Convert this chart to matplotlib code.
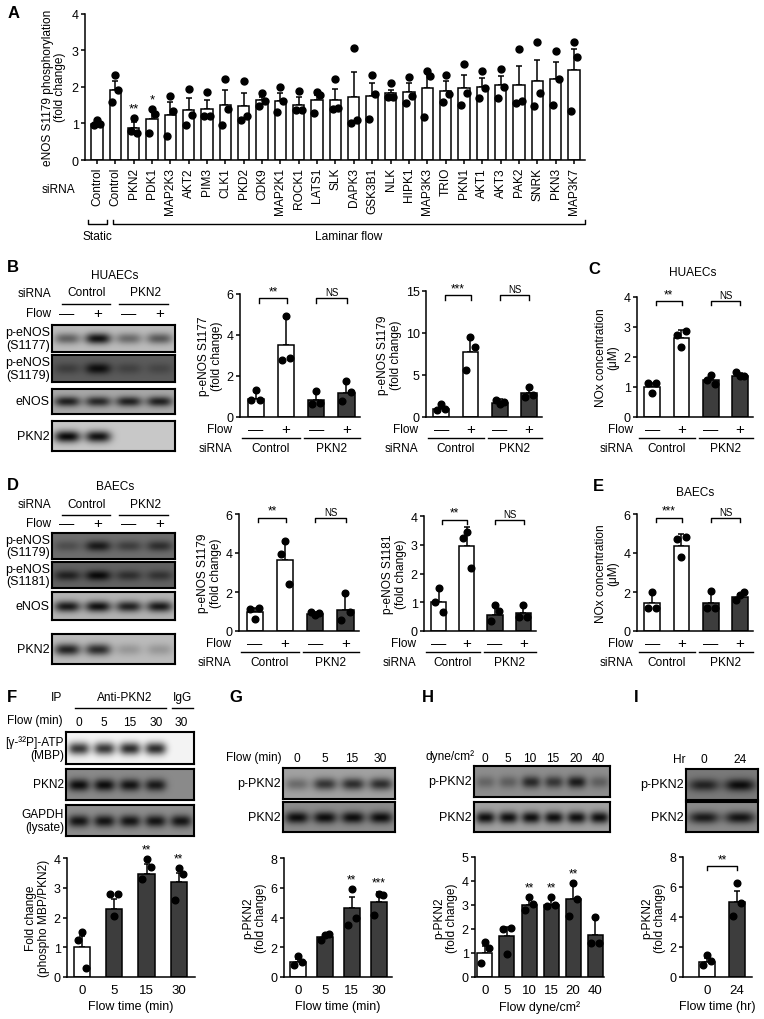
import numpy as np
import matplotlib
matplotlib.use("Agg")
import matplotlib.pyplot as plt
from matplotlib.lines import Line2D
from matplotlib.transforms import Affine2D, blended_transform_factory

# ---------------- data ----------------
# A: siRNA screen, eNOS S1179 phosphorylation (fold change)
a_names = ["Control", "Control", "PKN2", "PDK1", "MAP2K3", "AKT2", "PIM3", "CLK1",
           "PKD2", "CDK9", "MAP2K1", "ROCK1", "LATS1", "SLK", "DAPK3", "GSK3B1",
           "NLK", "HIPK1", "MAP3K3", "TRIO", "PKN1", "AKT1", "AKT3", "PAK2",
           "SNRK", "PKN3", "MAP3K7"]
a_mean = [0.97, 1.92, 0.88, 1.12, 1.23, 1.37, 1.40, 1.51, 1.47, 1.63, 1.62, 1.51,
          1.63, 1.64, 1.71, 1.74, 1.82, 1.86, 1.96, 1.89, 1.97, 2.00, 2.04, 2.05,
          2.17, 2.22, 2.46]
a_top = [1.03, 2.17, 1.03, 1.37, 1.58, 1.68, 1.65, 1.92, 1.82, 1.73, 1.83, 1.72,
         1.78, 1.95, 2.41, 2.10, 1.91, 2.09, 2.38, 2.15, 2.33, 2.23, 2.30, 2.57,
         2.73, 2.67, 3.04]
a_pts = [[0.95, 1.08, 0.98], [1.57, 2.33, 1.92], [0.78, 1.14, 0.74], [0.73, 1.38, 1.26],
         [0.65, 1.75, 1.34], [0.95, 1.95, 1.23], [1.20, 1.87, 1.20], [0.96, 2.22, 1.38],
         [1.09, 2.15, 1.19], [1.47, 1.83, 1.61], [1.30, 1.98, 1.61], [1.37, 1.88, 1.37],
         [1.29, 1.87, 1.77], [1.38, 2.20, 1.41], [1.02, 3.05, 1.09], [1.13, 2.31, 1.79],
         [1.72, 2.10, 1.72], [1.56, 2.27, 1.76], [1.18, 2.42, 2.29], [1.57, 2.33, 1.79],
         [1.49, 2.61, 1.82], [1.68, 2.42, 1.97], [1.69, 2.48, 2.00], [1.55, 3.04, 1.61],
         [1.47, 3.22, 1.82], [1.49, 2.97, 2.20], [1.35, 3.22, 2.82]]
a_stars = {"PKN2": "**", "PDK1": "*"}

# B: HUAEC p-eNOS
b1_mean = [0.87, 3.50, 0.82, 1.18]
b1_top = [1.20, 4.85, 1.20, 1.75]
b1_pts = [[0.85, 1.30, 0.85], [2.80, 4.95, 2.90], [0.65, 1.25, 0.70], [0.80, 1.75, 1.20]]
b2_mean = [1.0, 7.7, 1.7, 2.8]
b2_top = [1.5, 9.3, 2.1, 3.5]
b2_pts = [[0.8, 1.5, 0.9], [5.6, 9.5, 8.3], [2.0, 1.5, 1.8], [2.4, 3.6, 2.6]]
# C: HUAEC NOx
c_mean = [1.0, 2.63, 1.22, 1.38]
c_top = [1.15, 2.90, 1.40, 1.48]
c_pts = [[1.13, 0.80, 1.13], [2.75, 2.34, 2.87], [1.22, 1.40, 1.10], [1.50, 1.38, 1.38]]
# D: BAEC p-eNOS
d1_mean = [1.0, 3.65, 0.85, 1.10]
d1_top = [1.20, 4.50, 0.97, 1.90]
d1_pts = [[1.15, 0.60, 1.20], [3.95, 4.60, 2.40], [0.95, 0.80, 0.90], [0.55, 1.95, 0.95]]
d2_mean = [1.0, 2.95, 0.56, 0.62]
d2_top = [1.48, 3.62, 0.85, 0.90]
d2_pts = [[1.00, 1.48, 0.65], [3.25, 3.45, 2.18], [0.36, 0.91, 0.70], [0.50, 0.91, 0.47]]
# E: BAEC NOx
e_mean = [1.45, 4.37, 1.45, 1.74]
e_top = [2.00, 5.00, 2.05, 1.90]
e_pts = [[1.20, 2.00, 1.20], [4.70, 3.78, 4.80], [1.20, 2.05, 1.20], [1.57, 1.87, 2.00]]
# F-I: PKN2 activity / phosphorylation
f_x = ["0", "5", "15", "30"]
f_mean = [1.0, 2.3, 3.45, 3.2]
f_top = [1.37, 2.62, 3.80, 3.50]
f_pts = [[1.25, 1.50, 0.30], [2.80, 2.05, 2.80], [3.30, 3.95, 3.70], [2.60, 3.65, 3.45]]
f_stars = ["", "", "**", "**"]
g_x = ["0", "5", "15", "30"]
g_mean = [1.0, 2.7, 4.65, 5.05]
g_top = [1.2, 2.85, 5.35, 5.70]
g_pts = [[0.8, 1.4, 1.0], [2.5, 2.8, 2.9], [3.5, 5.9, 4.0], [4.2, 5.6, 5.5]]
g_stars = ["", "", "**", "***"]
h_x = ["0", "5", "10", "15", "20", "40"]
h_mean = [1.0, 1.7, 3.0, 3.0, 3.25, 1.75]
h_top = [1.3, 2.1, 3.25, 3.3, 3.9, 2.45]
h_pts = [[0.6, 1.45, 1.2], [2.0, 0.95, 2.05], [2.8, 3.35, 3.05], [2.95, 3.35, 3.0],
         [2.55, 3.9, 3.25], [1.4, 2.5, 1.4]]
h_stars = ["", "", "**", "**", "**", ""]
i_x = ["0", "24"]
i_mean = [1.0, 5.0]
i_top = [1.3, 5.75]
i_pts = [[0.8, 1.5, 1.05], [4.1, 6.3, 4.95]]

# western blot band strengths (0 = no band, 1 = black)
blot_b = {"p-eNOS\n(S1177)": [0.50, 0.95, 0.45, 0.55],
          "p-eNOS\n(S1179)": [0.35, 0.90, 0.30, 0.25],
          "eNOS": [0.85, 0.80, 0.85, 0.85],
          "PKN2": [1.0, 0.95, 0.0, 0.0]}
blot_d = {"p-eNOS\n(S1179)": [0.30, 0.80, 0.45, 0.60],
          "p-eNOS\n(S1181)": [0.70, 0.95, 0.55, 0.50],
          "eNOS": [0.90, 0.95, 0.85, 0.90],
          "PKN2": [0.85, 0.80, 0.20, 0.20]}
blot_f = {"[\u03b3-\u00b3\u00b2P]-ATP\n(MBP)": [0.80, 0.80, 0.85, 0.85, 0.0],
          "PKN2": [0.95, 0.95, 0.90, 0.85, 0.0],
          "GAPDH\n(lysate)": [0.90, 0.90, 0.90, 0.90, 0.90]}
blot_g = {"p-PKN2": [0.35, 0.70, 0.75, 0.75], "PKN2": [0.95, 0.95, 0.95, 0.95]}
blot_h = {"p-PKN2": [0.30, 0.35, 0.75, 0.65, 0.85, 0.35], "PKN2": [0.95] * 6}
blot_i = {"p-PKN2": [0.75, 0.95], "PKN2": [0.85, 0.90]}

# ---------------- figure setup ----------------
W, H = 764, 1020
plt.rcParams['font.family'] = ['Liberation Sans', 'DejaVu Sans']
plt.rcParams['font.size'] = 8.6
fig = plt.figure(figsize=(W / 100, H / 100), dpi=100)
PX = Affine2D().scale(1 / W, -1 / H).translate(0, 1) + fig.transFigure
DARK = "#3d3d3d"
LW = 1.1


def add_ax(x0, y0, x1, y1):
    return fig.add_axes([x0 / W, 1 - y1 / H, (x1 - x0) / W, (y1 - y0) / H])


def txt(x, y, s, **kw):
    kw.setdefault("ha", "center")
    kw.setdefault("va", "center")
    fig.text(x, y, s, transform=PX, **kw)


def pline(xs, ys, tr=PX, lw=1.0):
    fig.add_artist(Line2D(xs, ys, transform=tr, color="black", lw=lw))


def letter(x, y, s):
    txt(x, y, s, fontsize=12, fontweight="bold")


def style(ax):
    for s in ["top", "right"]:
        ax.spines[s].set_visible(False)
    for s in ["left", "bottom"]:
        ax.spines[s].set_linewidth(LW)
    ax.tick_params(width=LW, length=3, pad=1.5, labelsize=9)


def bars(ax, mean, top, pts, colors, width, ms=4.8):
    x = np.arange(len(mean))
    mean = np.array(mean)
    up = np.array(top) - mean
    ax.errorbar(x, mean, yerr=[np.zeros_like(up), up], fmt="none", ecolor="black",
                elinewidth=LW, capsize=2.5, capthick=LW, zorder=1)
    ax.bar(x, mean, width, color=colors, edgecolor="black", linewidth=LW, zorder=2)
    dx = np.array([-0.26, 0.0, 0.26]) * width
    for i, p in enumerate(pts):
        ax.plot(i + dx, p, "o", color="black", ms=ms, zorder=3, clip_on=False)


def blot(x0, y0, x1, y1, label, bands, bg, lab_x=None, fs=9):
    ax = add_ax(x0, y0, x1, y1)
    n = len(bands)
    w, h = int(x1 - x0) * 3, int(y1 - y0) * 3
    X, Y = np.meshgrid(np.linspace(0, n, w), np.linspace(0, 1, h))
    img = np.full((h, w), bg)
    for i, b in enumerate(bands):
        prof = np.exp(-(np.abs(X - (i + 0.5)) / 0.42) ** 3 - ((Y - 0.52) / 0.2) ** 2)
        img -= b * bg * 0.95 * prof
    ax.imshow(np.clip(img, 0, 1), cmap="gray", vmin=0, vmax=1, aspect="auto",
              extent=[0, n, 1, 0], interpolation="bilinear")
    ax.set_xticks([])
    ax.set_yticks([])
    for s in ax.spines.values():
        s.set_linewidth(1.5)
    txt(x0 - 2 if lab_x is None else lab_x, (y0 + y1) / 2, label, ha="right",
        linespacing=1.05, fontsize=fs)


def small_chart(x0, y0, x1, y1, mean, top, pts, ymax, yticks, ylabel, sig, lab_gap=8,
                rows=True):
    ax = add_ax(x0, y0, x1, y1)
    style(ax)
    bars(ax, mean, top, pts, ["white", "white", DARK, DARK], 0.54)
    ax.set_xlim(-0.52, 3.45)
    ax.set_ylim(0, ymax)
    ax.set_yticks(yticks)
    ax.set_xticks([])
    ax.set_ylabel(ylabel, linespacing=1.05, labelpad=3)
    # significance brackets
    yb, dy = ymax * 0.965, ymax * 0.035
    for (a, b), s in zip([(0.12, 1.02), (2.0, 3.02)], sig):
        ax.plot([a, a, b, b], [yb - dy, yb, yb, yb - dy], color="black", lw=1.0,
                clip_on=False)
        ax.text((a + b) / 2, yb + ymax * 0.01, s, ha="center", va="bottom",
                fontsize=7 if s == "NS" else 8.5)
    if rows:
        tr = blended_transform_factory(ax.transData, PX)
        yf = y1 + 12
        for i, s in enumerate(["\u2014", "+", "\u2014", "+"]):
            ax.text(i, yf, s, transform=tr, ha="center", va="center", fontsize=11)
        txt(x0 - lab_gap, yf, "Flow", ha="right")
        txt(x0 - lab_gap, yf + 19, "siRNA", ha="right")
        ax.text(0.5, yf + 19, "Control", transform=tr, ha="center", va="center")
        ax.text(2.5, yf + 19, "PKN2", transform=tr, ha="center", va="center")
        pline([-0.45, 1.45], [yf + 9, yf + 9], tr)
        pline([1.6, 3.45], [yf + 9, yf + 9], tr)
    return ax


# ---------------- A ----------------
letter(14, 14, "A")
axA = add_ax(85, 14.5, 585, 161)
style(axA)
colA = ["white"] * len(a_names)
bars(axA, a_mean, a_top, a_pts, colA, 0.62, ms=5)
axA.set_xlim(-0.65, len(a_names) - 0.4)
axA.set_ylim(0, 4)
axA.set_yticks([0, 1, 2, 3, 4])
axA.set_xticks(range(len(a_names)))
axA.set_xticklabels(a_names, rotation=90, va="top")
axA.tick_params(axis="x", length=3, pad=2, labelsize=8.6)
axA.set_ylabel("eNOS S1179 phosphorylation\n(fold change)", linespacing=1.05, labelpad=4)
for i, n in enumerate(a_names):
    if n in a_stars:
        axA.text(i, max(a_pts[i]) + 0.1, a_stars[n], ha="center", va="bottom", fontsize=9.5)
txt(75, 190, "siRNA", ha="right")
pline([88, 88, 107, 107], [221, 225, 225, 221])
pline([113, 113, 585, 585], [221, 225, 225, 221])
txt(97, 237, "Static")
txt(349, 237, "Laminar flow")

# ---------------- B ----------------
letter(13, 268, "B")
txt(115, 276, "HUAECs")
txt(51, 294, "siRNA", ha="right")
txt(87, 293, "Control")
txt(146, 293, "PKN2")
pline([62, 110], [305, 305])
pline([119, 168], [305, 305])
txt(51, 314, "Flow", ha="right")
for xl, s in zip([67, 98, 129, 160], ["\u2014", "+", "\u2014", "+"]):
    txt(xl, 314, s, fontsize=11)
b_rows = [(326, 353, "#bdbdbd"), (356, 383, "#5c5c5c"), (390, 415, "#a8a8a8"),
          (422, 452, "#c8c8c8")]
for (y0, y1, bg), (lab, bands) in zip(b_rows, blot_b.items()):
    blot(52, y0, 175, y1, lab, bands, int(bg[1:3], 16) / 255)

small_chart(240, 295, 360, 418, b1_mean, b1_top, b1_pts, 6, [0, 2, 4, 6],
            "p-eNOS S1177\n(fold change)", ["**", "NS"])
small_chart(426, 292, 542, 418, b2_mean, b2_top, b2_pts, 15, [0, 5, 10, 15],
            "p-eNOS S1179\n(fold change)", ["***", "NS"])

# ---------------- C ----------------
letter(594, 270, "C")
txt(693, 273, "HUAECs")
small_chart(637, 298, 753, 418, c_mean, c_top, c_pts, 4, [0, 1, 2, 3, 4],
            "NOx concentration\n(\u03bcM)", ["**", "NS"], lab_gap=4)

# ---------------- D ----------------
letter(13, 486, "D")
txt(115, 487, "BAECs")
txt(51, 505, "siRNA", ha="right")
txt(87, 505, "Control")
txt(146, 505, "PKN2")
pline([62, 110], [516, 516])
pline([119, 168], [516, 516])
txt(51, 524, "Flow", ha="right")
for xl, s in zip([67, 98, 129, 160], ["\u2014", "+", "\u2014", "+"]):
    txt(xl, 524, s, fontsize=11)
d_rows = [(534, 560, "#6e6e6e"), (563, 589, "#626262"), (593, 621, "#b4b4b4"),
          (635, 665, "#bcbcbc")]
for (y0, y1, bg), (lab, bands) in zip(d_rows, blot_d.items()):
    blot(52, y0, 175, y1, lab, bands, int(bg[1:3], 16) / 255)

small_chart(239, 515, 359, 632, d1_mean, d1_top, d1_pts, 6, [0, 2, 4, 6],
            "p-eNOS S1179\n(fold change)", ["**", "NS"])
small_chart(424, 517, 536, 632, d2_mean, d2_top, d2_pts, 4, [0, 1, 2, 3, 4],
            "p-eNOS S1181\n(fold change)", ["**", "NS"])

# ---------------- E ----------------
letter(598, 487, "E")
txt(695, 493, "BAECs")
small_chart(637, 515, 753, 632, e_mean, e_top, e_pts, 6, [0, 2, 4, 6],
            "NOx concentration\n(\u03bcM)", ["***", "NS"], lab_gap=4)


# ---------------- F-I ----------------
def time_chart(x0, y0, x1, y1, mean, top, pts, xlabels, ymax, yticks, ylabel, xlabel,
               stars, xlim, width):
    ax = add_ax(x0, y0, x1, y1)
    style(ax)
    cols = ["white"] + [DARK] * (len(mean) - 1)
    bars(ax, mean, top, pts, cols, width)
    ax.set_xlim(*xlim)
    ax.set_ylim(0, ymax)
    ax.set_yticks(yticks)
    ax.set_xticks(range(len(xlabels)))
    ax.set_xticklabels(xlabels, fontsize=9.5)
    ax.tick_params(axis="x", length=0, pad=5)
    ax.set_ylabel(ylabel, linespacing=1.05, labelpad=3)
    ax.set_xlabel(xlabel, fontsize=9, labelpad=3)
    for i, s in enumerate(stars):
        if s:
            ax.text(i, max(max(pts[i]), top[i]) + ymax * 0.03, s, ha="center",
                    va="bottom", fontsize=8.5, clip_on=False)
    return ax


letter(12, 698, "F")
txt(57, 698, "IP")
txt(125, 698, "Anti-PKN2")
txt(182, 698, "IgG")
pline([75, 166], [709, 709])
pline([172, 193], [709, 709])
txt(63, 721, "Flow (min)", ha="right")
for xl, s in zip([79, 104, 130, 156, 181], ["0", "5", "15", "30", "30"]):
    txt(xl, 723, s)
f_rows = [(733, 765, "#f4f4f4"), (770, 801, "#8a8a8a"), (806, 837, "#8e8e8e")]
for (y0, y1, bg), (lab, bands) in zip(f_rows, blot_f.items()):
    blot(66, y0, 194, y1, lab, bands, int(bg[1:3], 16) / 255, lab_x=64, fs=8.6)
time_chart(67, 859, 195, 978, f_mean, f_top, f_pts, f_x, 4, [0, 1, 2, 3, 4],
           "Fold change\n(phospho MBP/PKN2)", "Flow time (min)", f_stars,
           (-0.46, 3.5), 0.5)

letter(236, 698, "G")
txt(282, 758, "Flow (min)", ha="right")
for xl, s in zip([297, 325, 352, 380], g_x):
    txt(xl, 759, s)
g_rows = [(769, 800, "#a2a2a2"), (803, 833, "#8c8c8c")]
for (y0, y1, bg), (lab, bands) in zip(g_rows, blot_g.items()):
    blot(283, y0, 395, y1, lab, bands, int(bg[1:3], 16) / 255)
time_chart(284, 859, 392, 978, g_mean, g_top, g_pts, g_x, 8, [0, 2, 4, 6, 8],
           "p-PKN2\n(fold change)", "Flow time (min)", g_stars, (-0.52, 3.5), 0.6)

letter(428, 698, "H")
txt(474, 757, "dyne/cm\u00b2", ha="right")
for xl, s in zip([485, 508, 530, 553, 576, 598], h_x):
    txt(xl, 759, s)
h_rows = [(767, 798, "#8e8e8e"), (803, 833, "#a2a2a2")]
for (y0, y1, bg), (lab, bands) in zip(h_rows, blot_h.items()):
    blot(474, y0, 610, y1, lab, bands, int(bg[1:3], 16) / 255)
time_chart(475, 858, 604, 978, h_mean, h_top, h_pts, h_x, 5, [0, 1, 2, 3, 4, 5],
           "p-PKN2\n(fold change)", "Flow dyne/cm\u00b2", h_stars, (-0.45, 5.4), 0.68)

letter(636, 698, "I")
txt(685, 760, "Hr", ha="right")
for xl, s in zip([704, 740], i_x):
    txt(xl, 760, s)
i_rows = [(770, 801, "#7a7a7a"), (803, 833, "#8a8a8a")]
for (y0, y1, bg), (lab, bands) in zip(i_rows, blot_i.items()):
    blot(686, y0, 758, y1, lab, bands, int(bg[1:3], 16) / 255)
axI = time_chart(683, 858, 752, 978, i_mean, i_top, i_pts, i_x, 8, [0, 2, 4, 6, 8],
                 "p-PKN2\n(fold change)", "Flow time (hr)", ["", ""], (-0.8, 1.5), 0.55)
axI.plot([0, 0, 1, 1], [7.15, 7.4, 7.4, 7.15], color="black", lw=1.0, clip_on=False)
axI.text(0.5, 7.45, "**", ha="center", va="bottom", fontsize=8.5)

fig.savefig("out.png", dpi=100)
